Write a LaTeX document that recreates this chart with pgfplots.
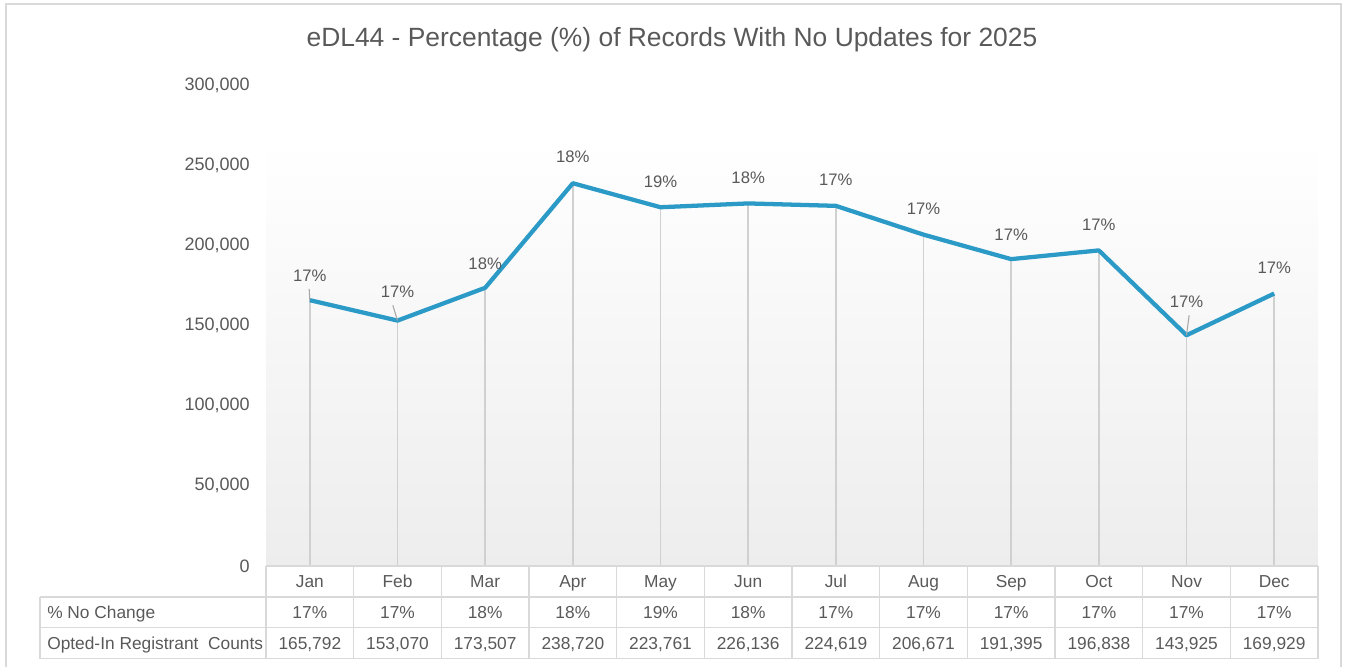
\documentclass[border=0pt]{standalone}
\usepackage{fontspec}
\setmainfont{Liberation Sans}
\usepackage{pgfplots}
\pgfplotsset{compat=1.18}
\usepackage{pgfplotstable}
\definecolor{linec}{HTML}{2B9AC6}
\definecolor{txt}{HTML}{595959}
\definecolor{gridc}{HTML}{D9D9D9}
\definecolor{dropc}{HTML}{D0D0D0}
\definecolor{bgc}{HTML}{EDEDED}

\pgfplotstableread{
x y pct off
0 165792 17 18.2
1 153070 17 21.5
2 173507 18 18.6
3 238720 18 19.7
4 223761 19 19.6
5 226136 18 19.8
6 224619 17 19.4
7 206671 17 19.3
8 191395 17 18.8
9 196838 17 19.8
10 143925 17 25.6
11 169929 17 19.2
}\datatable

\newcommand{\tabfont}{\fontsize{13}{15.6}\selectfont}

\begin{document}
\begin{tikzpicture}[x=0.75pt,y=-0.75pt]
\useasboundingbox (0,0) rectangle (1346,667);
% outer frame
\draw[gridc, line width=1.5pt] (6,4) rectangle (1341,680);
% title
\node[font=\fontsize{19.8}{24}\selectfont, color=txt] at (672,40) {eDL44 - Percentage (\%) of Records With No Updates for 2025};
% plot area gradient
\shade[top color=white, bottom color=bgc] (266,140) rectangle (1318,566);

\begin{axis}[
  at={(199.5pt,-424.5pt)}, anchor=south west,
  scale only axis, width=789pt, height=360.75pt,
  xmin=-0.5, xmax=11.5, ymin=0, ymax=300000,
  clip=false,
  axis line style={draw=none},
  major tick style={draw=none},
  xtick=\empty,
  ytick={0,50000,100000,150000,200000,250000,300000},
  scaled y ticks=false,
  yticklabel style={/pgf/number format/fixed, /pgf/number format/1000 sep={,},
    /pgf/number format/assume math mode=true,
    font=\fontsize{13.5}{16}\selectfont, color=txt, anchor=east, inner sep=0pt, xshift=-12pt},
]
\addplot[ycomb, dropc, line width=1.2pt] table[x=x,y=y] {\datatable};
\addplot[linec, line width=3.2pt, line join=round, mark=none,
  point meta=\thisrow{pct},
  visualization depends on={\thisrow{off} \as \off},
  nodes near coords={\pgfmathprintnumber[fixed,precision=0,assume math mode=true]{\pgfplotspointmeta}\%},
  nodes near coords style={font=\fontsize{12.5}{15}\selectfont, color=txt, anchor=center, inner sep=0pt,
     text height=9pt, text depth=0pt, yshift=\off pt},
] table[x=x,y=y] {\datatable};
% leader lines
\draw[gray!70, line width=0.8pt] (axis cs:0,165792) -- ++(-0.5pt,8.5pt);
\draw[gray!70, line width=0.8pt] (axis cs:1,153070) -- ++(-3.5pt,11.5pt);
\draw[gray!70, line width=0.8pt] (axis cs:10,143925) -- ++(2pt,15pt);
\end{axis}

% data table grid
\draw[gridc, line width=1.1pt] (266,566) -- (1318,566);
\foreach \yy in {597,627.5,658.5} \draw[gridc, line width=1.1pt] (40,\yy) -- (1318,\yy);
\draw[gridc, line width=1.1pt] (40,597) -- (40,658.5);
\foreach \k in {0,...,12} \draw[gridc, line width=1.1pt] ({266+87.667*\k},566) -- ({266+87.667*\k},658.5);

\tikzset{tabtxt/.style={font=\tabfont, color=txt, inner sep=0pt, text height=9.3pt, text depth=0pt}}
\foreach \m [count=\i from 0] in {Jan,Feb,Mar,Apr,May,Jun,Jul,Aug,Sep,Oct,Nov,Dec}
  \node[tabtxt] at ({266+87.667*(\i+0.5)},581.5) {\m};
\foreach \v [count=\i from 0] in {17,17,18,18,19,18,17,17,17,17,17,17}
  \node[tabtxt] at ({266+87.667*(\i+0.5)},612) {\v\%};
\foreach \v [count=\i from 0] in {{165,792},{153,070},{173,507},{238,720},{223,761},{226,136},{224,619},{206,671},{191,395},{196,838},{143,925},{169,929}}
  \node[tabtxt] at ({266+87.667*(\i+0.5)},643) {\v};
\node[tabtxt, anchor=west] at (47,612) {\% No Change};
\node[tabtxt, anchor=west] at (47,643) {Opted-In Registrant\ \ Counts};
\end{tikzpicture}
\end{document}
